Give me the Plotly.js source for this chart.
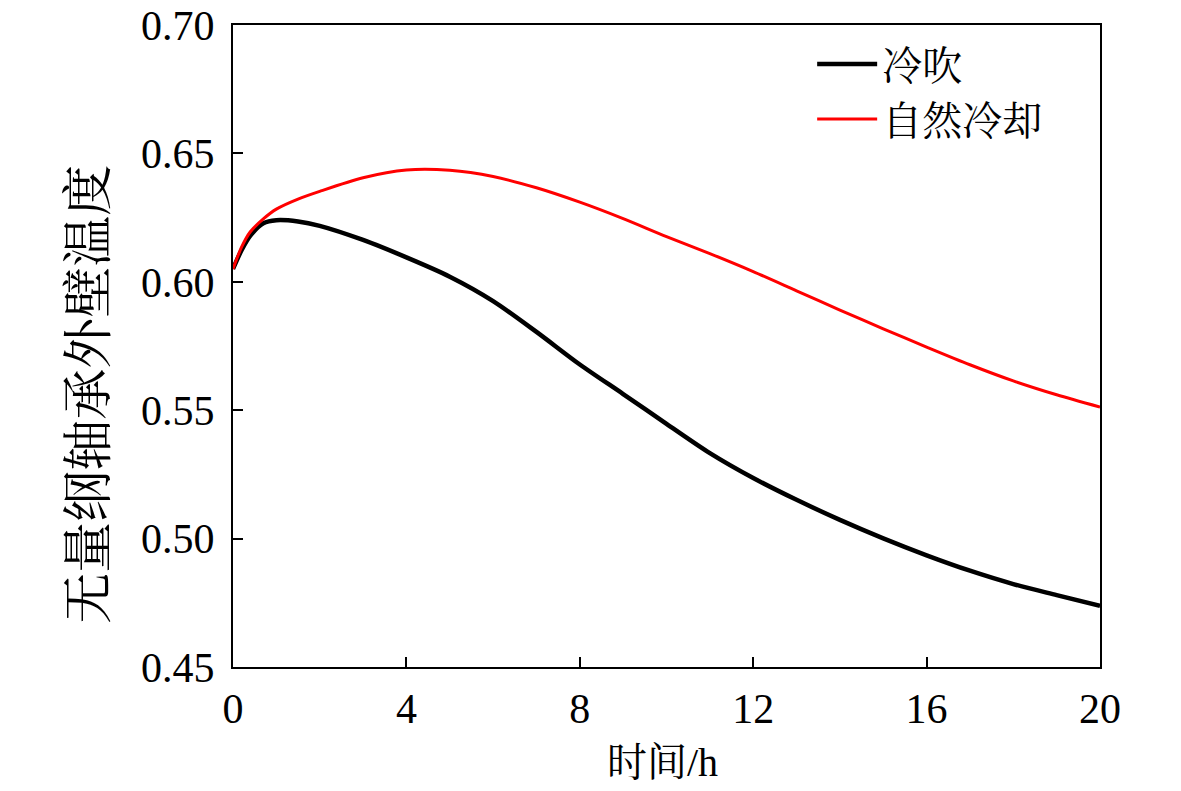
<!DOCTYPE html>
<html>
<head>
<meta charset="utf-8">
<script src="https://cdn.plot.ly/plotly-3.0.1.min.js"></script>
<style>
  html, body { margin: 0; padding: 0; background: #fff; }
  #graph { width: 1181px; height: 791px; }
</style>
</head>
<body>
<div id="graph"></div>
<script>
"use strict";

// 时间 (h)
const zamanH = [0, 0.2, 0.4, 0.7, 1.0, 1.5, 2, 3, 4, 5, 6, 7, 8, 9, 10, 11, 12, 13, 14, 15, 16, 17, 18, 19, 20];

// 冷吹
const sogukUfleme = [0.605, 0.6124, 0.618, 0.6228, 0.6240, 0.6235, 0.6218, 0.6163, 0.6095, 0.6020, 0.5925, 0.5805, 0.5678, 0.5563, 0.5447, 0.5333, 0.5236, 0.5151, 0.5073, 0.5001, 0.4935, 0.4875, 0.4823, 0.4780, 0.4738];

// 自然冷却
const dogalSogutma = [0.605, 0.6136, 0.6195, 0.6245, 0.6283, 0.6322, 0.6352, 0.6405, 0.6435, 0.6434, 0.6410, 0.6366, 0.6310, 0.6246, 0.6176, 0.6110, 0.6040, 0.5965, 0.5890, 0.5817, 0.5746, 0.5677, 0.5614, 0.5560, 0.5512];

const xTickVals = [0, 4, 8, 12, 16, 20];
const yTickVals = [0.45, 0.50, 0.55, 0.60, 0.65, 0.70];
const yTickText = ['0.45', '0.50', '0.55', '0.60', '0.65', '0.70'];

const FONT_FAMILY = "'Liberation Serif', 'Noto Serif CJK SC', 'Noto Sans CJK SC', serif";

const traces = [
    {
        x: zamanH, y: sogukUfleme, mode: 'lines', type: 'scatter', name: '冷吹',
        line: { color: '#000000', width: 4.5, shape: 'spline', smoothing: 0.8 }
    },
    {
        x: zamanH, y: dogalSogutma, mode: 'lines', type: 'scatter', name: '自然冷却',
        line: { color: '#ff0000', width: 3, shape: 'spline', smoothing: 0.8 }
    }
];

const eksenOrtak = {
    showgrid: false, zeroline: false,
    showline: true, linecolor: '#000', linewidth: 2, mirror: true,
    ticks: 'inside', ticklen: 10, tickwidth: 2, tickcolor: '#000',
    tickfont: { family: FONT_FAMILY, size: 42, color: '#000' }
};

const layout = {
    width: 1181, height: 791,
    paper_bgcolor: '#fff', plot_bgcolor: '#fff',
    font: { family: FONT_FAMILY, color: '#000' },
    margin: { l: 233, r: 81, t: 25, b: 124 },
    showlegend: true,
    legend: {
        x: 0.668, y: 0.99, xanchor: 'left', yanchor: 'top',
        bgcolor: 'rgba(0,0,0,0)', borderwidth: 0,
        font: { family: FONT_FAMILY, size: 40, color: '#000' },
        itemwidth: 60, tracegroupgap: 0
    },
    xaxis: Object.assign({}, eksenOrtak, {
        range: [0, 20], tickvals: xTickVals, ticklabelstandoff: 4
    }),
    yaxis: Object.assign({}, eksenOrtak, {
        range: [0.45, 0.70], tickvals: yTickVals, ticktext: yTickText, ticklabelstandoff: 8
    }),
    annotations: [
        {
            text: '时间/h', xref: 'paper', yref: 'paper', x: 0.495, y: 0,
            xanchor: 'center', yanchor: 'middle', yshift: -95, showarrow: false,
            font: { family: FONT_FAMILY, size: 40, color: '#000' }
        },
        {
            text: '无量纲轴承外壁温度', xref: 'paper', yref: 'paper', x: 0, y: 0.424,
            xanchor: 'center', yanchor: 'middle', xshift: -144, textangle: -90, showarrow: false,
            font: { family: FONT_FAMILY, size: 51, color: '#000' }
        }
    ]
};

Plotly.newPlot('graph', traces, layout, { staticPlot: true }).catch(err => {
    console.error("Grafik çizilirken hata:", err);
});
</script>
</body>
</html>
